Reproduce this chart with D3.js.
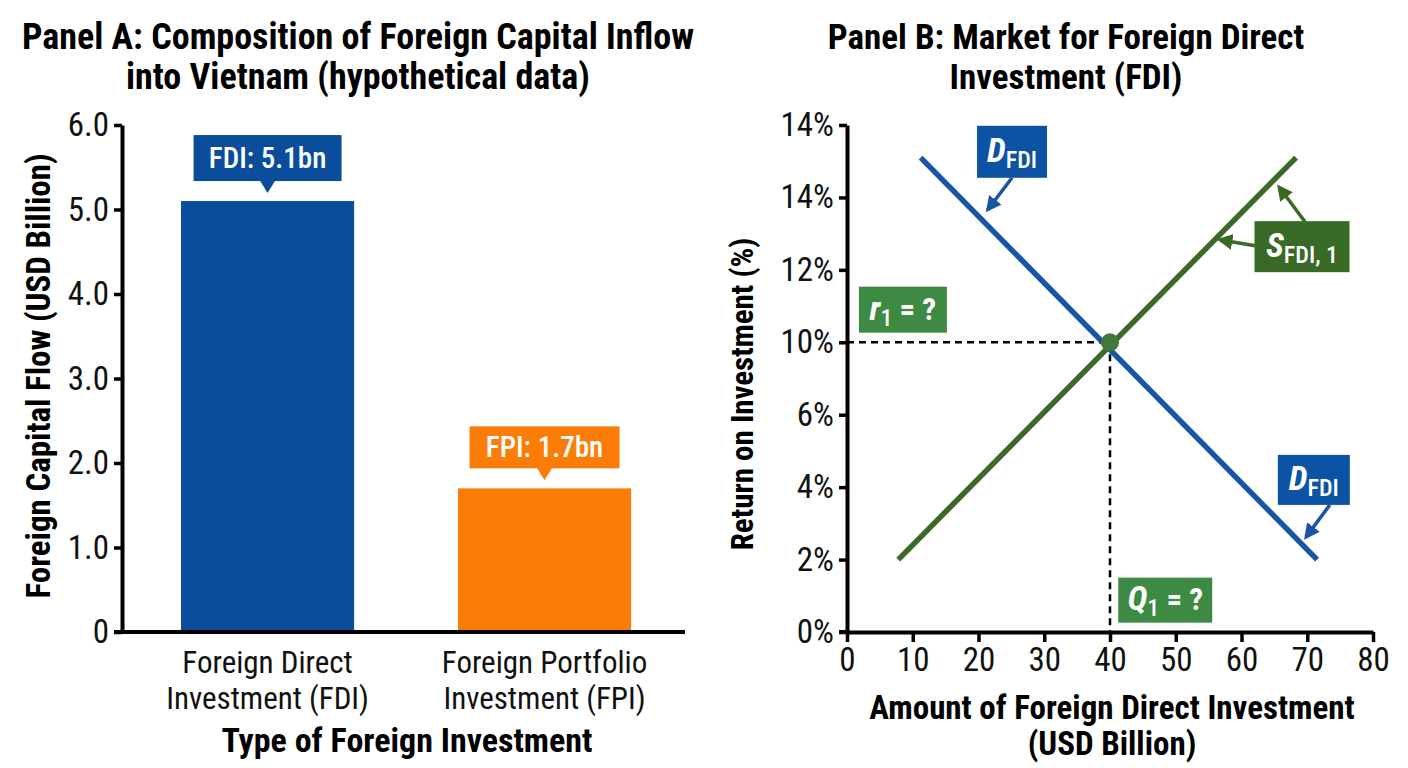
<!DOCTYPE html>
<html>
<head>
<meta charset="UTF-8">
<title>FDI vs FPI</title>
<style>
  body { margin: 0; background: #fff; }
  svg text { font-family: "Roboto Condensed", Roboto, "Liberation Sans Narrow", sans-serif; }
</style>
</head>
<body>
<script src="https://d3js.org/d3.v7.min.js"></script>
<svg id="chart"></svg>
<script>
// ---- Panel A data
const categories = ["Foreign Direct Investment (FDI)", "Foreign Portfolio Investment (FPI)"];
const catLines = [["Foreign Direct", "Investment (FDI)"], ["Foreign Portfolio", "Investment (FPI)"]];
const flowValues = [5.1, 1.7];
const flowLabels = ["FDI: 5.1bn", "FPI: 1.7bn"];
const flowTicks = [0, 1, 2, 3, 4, 5, 6];
const flowTickLabels = ["0", "1.0", "2.0", "3.0", "4.0", "5.0", "6.0"];

// ---- Panel B data (y positions are tick slots; labels as printed)
const qTicks = [0, 10, 20, 30, 40, 50, 60, 70, 80];
const rTicks = [0, 2, 4, 6, 8, 10, 12, 14];
const rTickLabels = ["0%", "2%", "4%", "6%", "10%", "12%", "14%", "14%"];
const demandLine = [[11.2, 13.1], [71.5, 2.0]];
const supplyLine = [[7.8, 2.0], [68.3, 13.1]];
const equilibrium = [40, 8];

const W = 1408, H = 768;
const svg = d3.select("#chart").attr("width", W).attr("height", H);

const blue = "#0a4e9b", orange = "#fb7d07";
const lineBlue = "#1955a6", lineGreen = "#3b6a28";
const boxGreenDark = "#386a26", boxGreen = "#3d8a42";

function styleAxis(g) {
  g.select(".domain").attr("stroke-width", 4);
  g.selectAll(".tick line").attr("stroke-width", 3.5);
  g.selectAll(".tick text").attr("font-size", 33).attr("fill", "#111");
}

// ================= Panel A =================
const yA = d3.scaleLinear().domain([0, 6]).range([632, 125]);
const xA = d3.scaleBand().domain(categories).range([125.6, 686.5]).paddingInner(0.375).paddingOuter(0.2);
const gA = svg.append("g");

gA.append("g").attr("transform", "translate(122,0)")
  .call(d3.axisLeft(yA).tickValues(flowTicks).tickFormat((d, i) => flowTickLabels[i]).tickSize(8).tickSizeOuter(0).tickPadding(5))
  .call(styleAxis);

gA.selectAll("rect.bar").data(flowValues).enter().append("rect")
  .attr("class", "bar")
  .attr("x", (d, i) => xA(categories[i]))
  .attr("y", d => yA(d))
  .attr("width", xA.bandwidth())
  .attr("height", d => yA(0) - yA(d))
  .attr("fill", (d, i) => i === 0 ? blue : orange);

gA.append("line").attr("x1", 114).attr("x2", 685).attr("y1", 632).attr("y2", 632)
  .attr("stroke", "#000").attr("stroke-width", 4);

// value callouts
flowValues.forEach((v, i) => {
  const cx = xA(categories[i]) + xA.bandwidth() / 2;
  const by = yA(v) - 6;
  const bw = i === 0 ? 148 : 150, bh = i === 0 ? 46 : 42;
  const col = i === 0 ? blue : orange;
  gA.append("rect").attr("x", cx - bw / 2).attr("y", by - 14 - bh).attr("width", bw).attr("height", bh).attr("fill", col);
  gA.append("path").attr("d", `M${cx - 8},${by - 15} L${cx + 8},${by - 15} L${cx},${by - 2} Z`).attr("fill", col);
  gA.append("text").attr("x", cx).attr("y", by - 14 - bh / 2 + 10).attr("text-anchor", "middle")
    .attr("font-size", 29).attr("font-weight", 500).attr("fill", "#fff").text(flowLabels[i]);
});

// category labels
catLines.forEach((lines, i) => {
  const cx = xA(categories[i]) + xA.bandwidth() / 2;
  lines.forEach((t, j) => {
    gA.append("text").attr("x", cx).attr("y", 673 + j * 36).attr("text-anchor", "middle")
      .attr("font-size", 31).attr("fill", "#111").text(t);
  });
});

gA.append("text").attr("x", 407).attr("y", 752).attr("text-anchor", "middle")
  .attr("font-size", 34).attr("font-weight", 700).text("Type of Foreign Investment");
gA.append("text").attr("transform", "translate(50,376) rotate(-90)").attr("text-anchor", "middle")
  .attr("font-size", 33).attr("font-weight", 700).text("Foreign Capital Flow (USD Billion)");

["Panel A: Composition of Foreign Capital Inflow", "into Vietnam (hypothetical data)"].forEach((t, j) => {
  gA.append("text").attr("x", 358).attr("y", 49 + j * 40).attr("text-anchor", "middle")
    .attr("font-size", 36).attr("font-weight", 700).text(t);
});

// ================= Panel B =================
const xB = d3.scaleLinear().domain([0, 80]).range([847, 1373]);
const yB = d3.scaleLinear().domain([0, 14]).range([632, 125]);
const gB = svg.append("g");

gB.append("g").attr("transform", "translate(847,0)")
  .call(d3.axisLeft(yB).tickValues(rTicks).tickFormat((d, i) => rTickLabels[i]).tickSize(8).tickSizeOuter(0).tickPadding(5))
  .call(styleAxis);

gB.append("g").attr("transform", "translate(0,632)")
  .call(d3.axisBottom(xB).tickValues(qTicks).tickSize(10).tickSizeOuter(0).tickPadding(6))
  .call(styleAxis);
gB.append("line").attr("x1", 839).attr("x2", 847).attr("y1", 632).attr("y2", 632).attr("stroke", "#000").attr("stroke-width", 4);

// dashed guides
gB.append("line").attr("x1", xB(0)).attr("x2", xB(equilibrium[0])).attr("y1", yB(equilibrium[1])).attr("y2", yB(equilibrium[1]))
  .attr("stroke", "#000").attr("stroke-width", 2.5).attr("stroke-dasharray", "7,5");
gB.append("line").attr("x1", xB(equilibrium[0])).attr("x2", xB(equilibrium[0])).attr("y1", yB(equilibrium[1])).attr("y2", yB(0))
  .attr("stroke", "#000").attr("stroke-width", 2.5).attr("stroke-dasharray", "7,5");

const line = d3.line().x(d => xB(d[0])).y(d => yB(d[1]));
gB.append("path").datum(demandLine).attr("d", line).attr("stroke", lineBlue).attr("stroke-width", 5.5).attr("fill", "none");
gB.append("path").datum(supplyLine).attr("d", line).attr("stroke", lineGreen).attr("stroke-width", 5.5).attr("fill", "none");
gB.append("circle").attr("cx", xB(equilibrium[0])).attr("cy", yB(equilibrium[1])).attr("r", 9).attr("fill", "#3f7a3a");

// arrow markers
const defs = svg.append("defs");
[["arrB", lineBlue], ["arrG", boxGreenDark]].forEach(([id, c]) => {
  defs.append("marker").attr("id", id).attr("viewBox", "0 0 10 10").attr("refX", 8).attr("refY", 5)
    .attr("markerWidth", 4.5).attr("markerHeight", 4.5).attr("orient", "auto-start-reverse")
    .append("path").attr("d", "M0,0 L10,5 L0,10 Z").attr("fill", c);
});

function arrow(from, to, id, c) {
  gB.append("line").attr("x1", from[0]).attr("y1", from[1]).attr("x2", xB(to[0])).attr("y2", yB(to[1]))
    .attr("stroke", c).attr("stroke-width", 3.5).attr("marker-end", `url(#${id})`);
}

function labelBox(cx, cy, w, h, fill, main, sub, tail) {
  const px = xB(cx), py = yB(cy);
  gB.append("rect").attr("x", px - w / 2).attr("y", py - h / 2).attr("width", w).attr("height", h).attr("fill", fill);
  const t = gB.append("text").attr("x", px).attr("y", py + 10).attr("text-anchor", "middle").attr("fill", "#fff");
  t.append("tspan").attr("font-size", 34).attr("font-weight", 700).attr("font-style", "italic").text(main);
  t.append("tspan").attr("font-size", 24).attr("font-weight", 500).attr("dy", 6).text(sub);
  if (tail) t.append("tspan").attr("font-size", 31).attr("font-weight", 700).attr("dy", -6).text(tail);
  return [px, py];
}

// D_FDI top
let p = labelBox(25.1, 13.26, 70, 52, "#0c53a3", "D", "FDI");
arrow([p[0], p[1] + 26], [21.4, 11.66], "arrB", lineBlue);
// D_FDI bottom
p = labelBox(71.0, 4.2, 72, 50, "#0c53a3", "D", "FDI");
arrow([p[0] + 16, p[1] + 25], [69.8, 2.62], "arrB", lineBlue);
// S_FDI,1
p = labelBox(69.2, 10.64, 95, 51, boxGreenDark, "S", "FDI, 1");
arrow([p[0] + 3, p[1] - 25], [65.7, 12.29], "arrG", boxGreenDark);
arrow([p[0] - 47, p[1] - 1], [56.7, 10.83], "arrG", boxGreenDark);
// r1, Q1
labelBox(8.5, 8.9, 88, 46, boxGreen, "r", "1", " = ?");
labelBox(48.4, 0.88, 94, 45, boxGreen, "Q", "1", " = ?");

gB.append("text").attr("transform", "translate(753,394) rotate(-90)").attr("text-anchor", "middle")
  .attr("font-size", 31).attr("font-weight", 700).text("Return on Investment (%)");
gB.append("text").attr("x", 1112).attr("y", 719).attr("text-anchor", "middle")
  .attr("font-size", 33).attr("font-weight", 700).text("Amount of Foreign Direct Investment");
gB.append("text").attr("x", 1112).attr("y", 755).attr("text-anchor", "middle")
  .attr("font-size", 33).attr("font-weight", 700).text("(USD Billion)");

["Panel B: Market for Foreign Direct", "Investment (FDI)"].forEach((t, j) => {
  gB.append("text").attr("x", 1066).attr("y", 49 + j * 40).attr("text-anchor", "middle")
    .attr("font-size", 35).attr("font-weight", 700).text(t);
});
</script>
</body>
</html>
